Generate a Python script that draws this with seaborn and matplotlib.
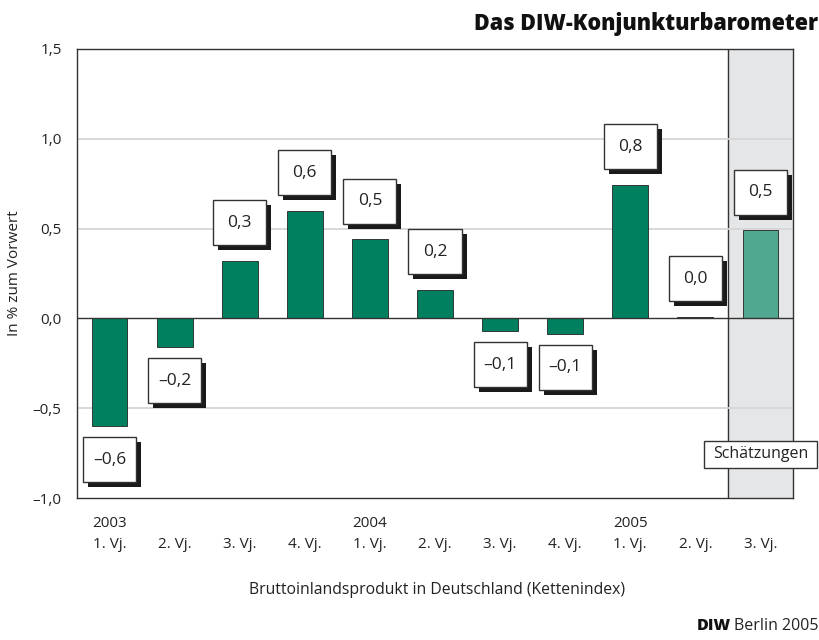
import matplotlib
matplotlib.use("Agg")
import matplotlib.pyplot as plt
import matplotlib.patheffects as pe
from matplotlib.patches import Rectangle
import pandas as pd
import seaborn as sns

# data
quarters = ["1. Vj.", "2. Vj.", "3. Vj.", "4. Vj.", "1. Vj.", "2. Vj.",
            "3. Vj.", "4. Vj.", "1. Vj.", "2. Vj.", "3. Vj."]
years = ["2003", "", "", "", "2004", "", "", "", "2005", "", ""]
growth = [-0.60, -0.16, 0.32, 0.60, 0.44, 0.16, -0.07, -0.085, 0.745, 0.01, 0.49]
labels = ["–0,6", "–0,2", "0,3", "0,6", "0,5", "0,2", "–0,1", "–0,1", "0,8", "0,0", "0,5"]
estimate = [False] * 10 + [True]
yticks = [-1.0, -0.5, 0.0, 0.5, 1.0, 1.5]

GREEN = "#00805f"
LIGHT_GREEN = "#4fa88f"

sns.set_style("white")
plt.rcParams["font.family"] = ["Open Sans", "DejaVu Sans"]

df = pd.DataFrame({"pos": range(len(growth)), "growth": growth,
                   "kind": ["Schätzung" if e else "Ist" for e in estimate]})

fig = plt.figure(figsize=(8.19, 6.4), dpi=100)
ax = fig.add_axes([77 / 819, 1 - 498 / 640, 716 / 819, 449 / 640])

# shaded estimate column
ax.axvspan(len(growth) - 1.5, len(growth) - 0.5, color="#e5e6e7", zorder=0)
ax.axvline(len(growth) - 1.5, color="#333333", lw=1, zorder=1)

sns.barplot(data=df, x="pos", y="growth", hue="kind",
            palette={"Ist": GREEN, "Schätzung": LIGHT_GREEN}, saturation=1,
            dodge=False, width=0.55, edgecolor="#222222", linewidth=0.6,
            legend=False, ax=ax, zorder=3)

ax.set_ylim(-1.0, 1.5)
ax.set_xlim(-0.5, len(growth) - 0.5)
for v in [-0.5, 0.5, 1.0]:
    ax.axhline(v, color="#d6d6d6", lw=1.3, zorder=1)
ax.axhline(0, color="#333333", lw=1, zorder=4)

ax.set_yticks(yticks)
ax.set_yticklabels([f"{v:.1f}".replace(".", ",").replace("-", "–") for v in yticks],
                   fontsize=11, color="#222222")
ax.tick_params(axis="y", direction="out", length=7, width=1, color="#333333", pad=4)

ax.set_xticks(range(len(growth)))
ax.set_xticklabels([f"{y}\n{q}" for y, q in zip(years, quarters)],
                   fontsize=11, color="#222222", linespacing=1.55)
ax.tick_params(axis="x", length=0, pad=13)
ax.set_xticks([i + 0.5 for i in range(-1, len(growth))], minor=True)
ax.tick_params(axis="x", which="minor", direction="out", length=7, width=1, color="#333333")
ax.set_xlabel("")
ax.set_ylabel("In % zum Vorwert", fontsize=11, color="#222222", labelpad=8)

for side in ["left", "bottom", "top", "right"]:
    ax.spines[side].set_color("#333333")
    ax.spines[side].set_linewidth(1)

# value boxes with drop shadow (fixed size, in data units of this fixed axes)
box_w, box_h = 0.815, 0.25
shadow = [pe.withSimplePatchShadow(offset=(3.6, -3.6), shadow_rgbFace="#1a1a1a", alpha=1.0)]
for i, (v, lab) in enumerate(zip(growth, labels)):
    cy = v + 0.212 if v >= 0 else v - 0.187
    r = Rectangle((i - box_w / 2, cy - box_h / 2), box_w, box_h, fc="white",
                  ec="#333333", lw=1, zorder=6)
    r.set_path_effects(shadow)
    ax.add_patch(r)
    ax.text(i, cy, lab, ha="center", va="center", fontsize=12.5, color="#222222", zorder=7)

# "Schätzungen" tag
sy = -0.757
tag = Rectangle((len(growth) - 1 - 0.868, sy - 0.075), 1.736, 0.15, fc="white",
                ec="#333333", lw=1, zorder=6, clip_on=False)
ax.add_patch(tag)
ax.text(len(growth) - 1, sy, "Schätzungen", ha="center", va="center",
        fontsize=11.5, color="#222222", zorder=7)

fig.text(0.999, 1 - 24 / 640, "Das DIW-Konjunkturbarometer", ha="right", va="center",
         fontsize=15.5, fontweight="heavy", color="#111111")
fig.text(437 / 819, 1 - 590 / 640, "Bruttoinlandsprodukt in Deutschland (Kettenindex)",
         ha="center", va="center", fontsize=11.3, color="#222222")
fig.text(0.999, 1 - 626 / 640, "Berlin 2005", ha="right", va="center",
         fontsize=11.5, color="#222222")
fig.text(0.999 - 87 / 819, 1 - 626 / 640, "DIW", ha="right", va="center",
         fontsize=11.5, fontweight="heavy", color="#111111")

fig.savefig("out.png", dpi=100)
